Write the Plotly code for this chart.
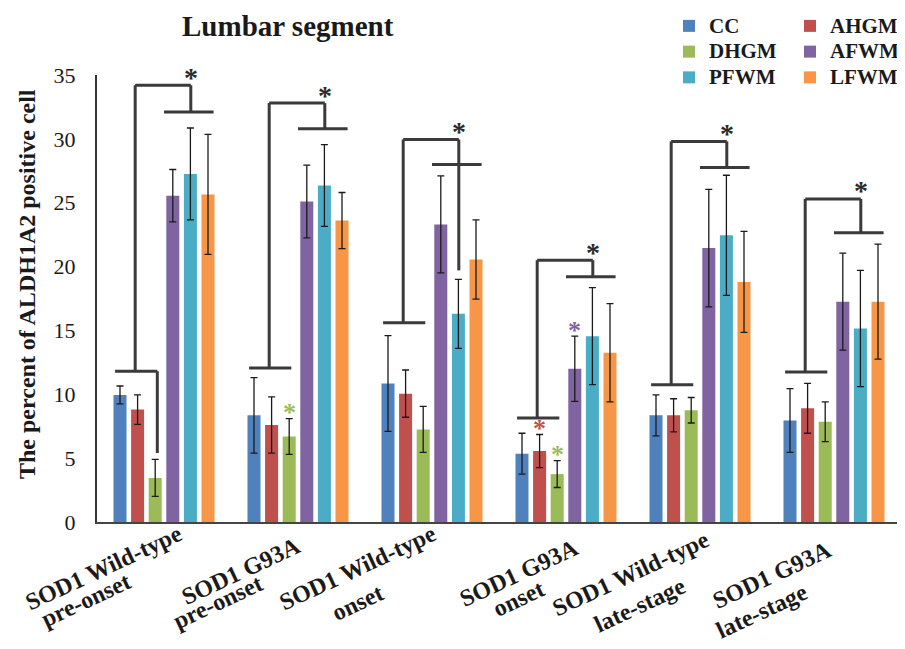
import plotly.graph_objects as go

# ---------------- data ----------------
cat_line1 = ["SOD1 Wild-type", "SOD1 G93A", "SOD1 Wild-type",
             "SOD1 G93A", "SOD1 Wild-type", "SOD1 G93A"]
cat_line2 = ["pre-onset", "pre-onset", "onset", "onset",
             "late-stage", "late-stage"]
series_names = ["CC", "AHGM", "DHGM", "AFWM", "PFWM", "LFWM"]

CC = [9.95, 8.35, 10.85, 5.35, 8.35, 7.95]
CC_err = [0.7, 2.95, 3.75, 1.6, 1.6, 2.5]
AHGM = [8.8, 7.6, 10.05, 5.55, 8.35, 8.9]
AHGM_err = [1.15, 2.2, 1.85, 1.3, 1.3, 1.95]
DHGM = [3.45, 6.7, 7.25, 3.75, 8.75, 7.85]
DHGM_err = [1.45, 1.4, 1.8, 1.05, 1.0, 1.55]
AFWM = [25.55, 25.1, 23.3, 12.0, 21.45, 17.25]
AFWM_err = [2.05, 2.85, 3.8, 2.55, 4.6, 3.8]
PFWM = [27.25, 26.35, 16.3, 14.55, 22.45, 15.15]
PFWM_err = [3.6, 3.2, 2.7, 3.8, 4.7, 4.55]
LFWM = [25.65, 23.6, 20.55, 13.25, 18.8, 17.25]
LFWM_err = [4.7, 2.2, 3.1, 3.85, 3.95, 4.5]

# significance brackets (heights in data units)
bracket_low = [11.8, 12.05, 15.6, 8.15, 10.75, 11.75]
bracket_top = [34.2, 32.8, 29.95, 20.5, 29.8, 25.3]
bracket_right = [32.1, 30.8, 28.0, 19.2, 27.75, 22.65]
left_drop = {0: 5.4}      # group -> lower end of drop to DHGM
right_drop = {2: 19.7}    # group -> lower end of drop to PFWM
# coloured asterisks: (group, series index)
colored_stars = [(1, 2), (3, 1), (3, 2), (3, 3)]

values = [CC, AHGM, DHGM, AFWM, PFWM, LFWM]
errors = [CC_err, AHGM_err, DHGM_err, AFWM_err, PFWM_err, LFWM_err]
colors = ["#4F81BD", "#C0504D", "#9BBB59", "#8064A2", "#4BACC6", "#F79646"]
legend_of = ["legend", "legend2", "legend", "legend2", "legend", "legend2"]

# ---------------- layout geometry ----------------
FONT = "Liberation Serif"
TXT = "#1a1a1a"
OFF = 8                     # page body margin of the html page
W, H = 905 - OFF, 649 - OFF
ML, MT, PW, PH = 97 - OFF, 75 - OFF, 804, 447
MR, MB = W - ML - PW, H - MT - PH
NG = len(cat_line1)
xs = list(range(NG))

# label line centres (screen px offsets from group centre, screen y)
lab1_dx = [-61, -57, -75, -47, -70, -62]
lab2_dx = [-78, -80, -75, -48, -60, -72]
lab1_y = [568, 571, 568, 573, 574, 575]
lab2_y = [600, 602, 603, 599, 605, 611]


def px_x(px):   # screen px -> paper x
    return (px - OFF - ML) / PW


def px_y(py):   # screen px -> paper y
    return (MT + PH - (py - OFF)) / PH


def group_px(g):
    return 97 + PW * (g + 0.5) / NG


fig = go.Figure()
for name, v, e, c, lg in zip(series_names, values, errors, colors, legend_of):
    fig.add_trace(go.Bar(
        x=xs, y=v, name="<span style='font-size:21px'>" + name + "</span>",
        marker=dict(color=c, line=dict(width=0)),
        error_y=dict(type="data", array=e, visible=True, color="#1a1a1a",
                     thickness=1.3, width=3.5),
        legend=lg,
    ))

BARGAP = 0.212
slot = (1 - BARGAP) / 6


def bar_off(j):
    return (j - 2.5) * slot


line = dict(color="#3a3a3a", width=3)
shapes = []
annotations = []
for g in xs:
    lo, tp, rt = bracket_low[g], bracket_top[g], bracket_right[g]
    L0, L1, C, TR, R0, R1 = -0.365, -0.05, -0.215, 0.2, 0.0, 0.37
    segs = [
        (g + L0, lo, g + L1, lo),
        (g + C, lo, g + C, tp),
        (g + C, tp, g + TR, tp),
        (g + TR, tp, g + TR, rt),
        (g + R0, rt, g + R1, rt),
    ]
    if g in left_drop:
        segs.append((g + L1, lo, g + L1, left_drop[g]))
    if g in right_drop:
        segs.append((g + TR, rt, g + TR, right_drop[g]))
    for x0, y0, x1, y1 in segs:
        shapes.append(dict(type="line", xref="x", yref="y", x0=x0, y0=y0,
                           x1=x1, y1=y1, line=line, layer="above"))
    annotations.append(dict(x=g + TR, y=tp, xref="x", yref="y", text="<b>*</b>",
                            showarrow=False, yanchor="middle", yshift=8,
                            font=dict(family=FONT, size=28, color="#2a2a2a")))

for g, j in colored_stars:
    top = values[j][g] + errors[j][g]
    annotations.append(dict(x=g + bar_off(j), y=top, xref="x", yref="y",
                            text="<b>*</b>", showarrow=False, yanchor="middle",
                            yshift=6,
                            font=dict(family=FONT, size=26, color=colors[j])))

# category labels (rotated, one annotation per line)
for g in xs:
    for txt, dx, yy in ((cat_line1[g], lab1_dx[g], lab1_y[g]),
                        (cat_line2[g], lab2_dx[g], lab2_y[g])):
        annotations.append(dict(x=px_x(group_px(g) + dx), y=px_y(yy),
                                xref="paper", yref="paper",
                                text="<b>" + txt + "</b>", showarrow=False,
                                textangle=-25, xanchor="center", yanchor="middle",
                                font=dict(family=FONT, size=24, color=TXT)))

# y axis title
annotations.append(dict(x=px_x(27), y=px_y(284), xref="paper", yref="paper",
                        xanchor="center", yanchor="middle",
                        text="<b>The percent of ALDH1A2 positive cell</b>",
                        showarrow=False, textangle=-90,
                        font=dict(family=FONT, size=24, color=TXT)))

# title
annotations.append(dict(x=px_x(288), y=px_y(25.5), xref="paper", yref="paper",
                        xanchor="center", yanchor="middle",
                        text="<b>Lumbar segment</b>", showarrow=False,
                        font=dict(family=FONT, size=29, color=TXT)))

leg_font = dict(family=FONT, size=17.5, color=TXT, weight="bold")
fig.update_layout(
    width=W, height=H,
    margin=dict(l=ML, r=MR, t=MT, b=MB, autoexpand=False),
    paper_bgcolor="white", plot_bgcolor="white",
    barmode="group", bargap=BARGAP, bargroupgap=0.26,
    xaxis=dict(range=[-0.5, NG - 0.5], showticklabels=False, showgrid=False,
               zeroline=False, showline=True, linecolor="#444", linewidth=2,
               ticks=""),
    yaxis=dict(range=[0, 35], dtick=5, showgrid=False, zeroline=False,
               showline=True, linecolor="#333", linewidth=2, ticks="",
               ticklabelstandoff=15,
               tickfont=dict(family=FONT, size=22, color=TXT)),
    legend=dict(x=661 / W, y=1 + 5.4 / H, xref="container", yref="container",
                xanchor="left", yanchor="top", orientation="v",
                bgcolor="rgba(0,0,0,0)", font=leg_font, itemclick=False),
    legend2=dict(x=782 / W, y=1 + 5.4 / H, xref="container", yref="container",
                 xanchor="left", yanchor="top", orientation="v",
                 bgcolor="rgba(0,0,0,0)", font=leg_font, itemclick=False),
    shapes=shapes,
    annotations=annotations,
    showlegend=True,
)

fig.write_html("out.html")
